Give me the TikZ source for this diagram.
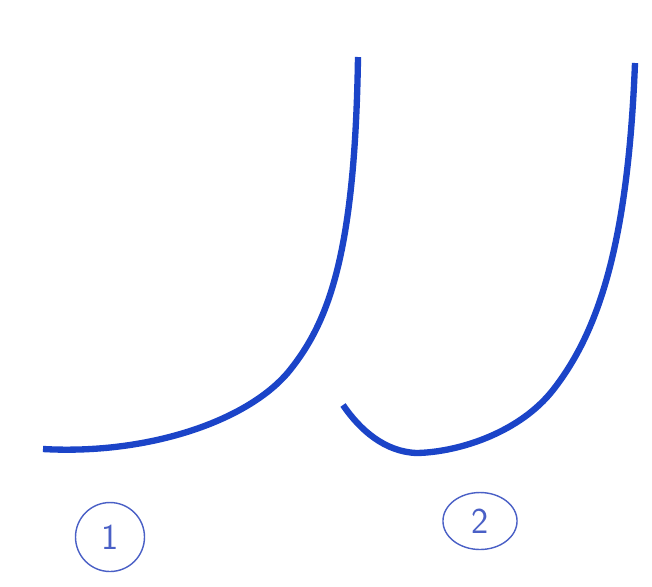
\documentclass[tikz,border=0pt]{standalone}
\usepackage{tikz}
\usetikzlibrary{calc}
\usepackage{xcolor}
\definecolor{Pen}{HTML}{1B44C8}
\definecolor{PenLight}{HTML}{4A60C6}

\begin{document}
\begin{tikzpicture}[x=0.02cm,y=-0.02cm,
  curveline/.style={Pen,line width=3.6pt,line join=round},
  tag/.style={circle,draw=PenLight,line width=0.8pt,inner sep=0pt},
  digit/.style={text=PenLight,font=\sffamily\huge}]
\fill[white] (0,0) rectangle (652,586);
% curve 1
\draw[curveline] (358,57) .. controls (355,250) and (330,320) .. (290,370)
  .. controls (250,420) and (150,455) .. (43,449);
% curve 2
\draw[curveline] (635,63) .. controls (628,240) and (600,330) .. (553,390)
  .. controls (520,432) and (460,452) .. (417,453)
  .. controls (385,452) and (360,430) .. (343,405);
% labels
\node[tag,minimum size=1.38cm] (lab1) at (110,537) {};
\node[digit] (num1) at (lab1.center) {1};
\node[tag,minimum size=1.14cm,xscale=1.3] (lab2) at (480,521) {};
\node[digit] (num2) at (lab2.center) {2};
\end{tikzpicture}
\end{document}
